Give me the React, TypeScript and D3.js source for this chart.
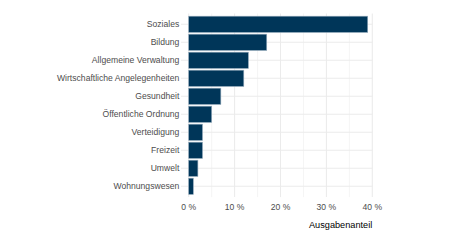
import React from "react";
import * as d3 from "d3";

const categories = [
  "Soziales",
  "Bildung",
  "Allgemeine Verwaltung",
  "Wirtschaftliche Angelegenheiten",
  "Gesundheit",
  "Öffentliche Ordnung",
  "Verteidigung",
  "Freizeit",
  "Umwelt",
  "Wohnungswesen",
];
const shares = [39, 17, 13, 12, 7, 5, 3, 3, 2, 1];
const majorTicks = [0, 10, 20, 30, 40];
const minorTicks = [5, 15, 25, 35];

const W = 450;
const H = 247;
const panel = { left: 181, right: 372.6, top: 13.5, bottom: 197.1 };
const font = "'Liberation Sans', Arial, sans-serif";

const App = () => {
  const x = d3.scaleLinear().domain([0, 40]).range([188.7, 372.3]);
  const y = d3
    .scaleBand()
    .domain(categories)
    .range([15.3, 195.3])
    .paddingInner(0.1)
    .paddingOuter(0.05);
  const band = y.step();

  return (
    <svg
      width={W}
      height={H}
      style={{ position: "absolute", left: 0, top: 0, background: "#fff" }}
    >
      {/* minor grid */}
      {minorTicks.map((t) => (
        <line
          key={"mi" + t}
          x1={x(t)}
          x2={x(t)}
          y1={panel.top}
          y2={panel.bottom}
          stroke="#ebebeb"
          strokeWidth={0.55}
        />
      ))}
      {majorTicks.map((t) => (
        <line
          key={"ma" + t}
          x1={x(t)}
          x2={x(t)}
          y1={panel.top}
          y2={panel.bottom}
          stroke="#ebebeb"
          strokeWidth={1.07}
        />
      ))}
      {categories.map((c) => (
        <line
          key={"h" + c}
          x1={panel.left}
          x2={panel.right}
          y1={(y(c) as number) + y.bandwidth() / 2}
          y2={(y(c) as number) + y.bandwidth() / 2}
          stroke="#ebebeb"
          strokeWidth={1.07}
        />
      ))}
      {categories.map((c, i) => {
        const cy = (y(c) as number) + y.bandwidth() / 2;
        const h = band * 0.9;
        return (
          <rect
            key={"b" + c}
            x={x(0)}
            y={cy - h / 2}
            width={x(shares[i]) - x(0)}
            height={h}
            fill="#003659"
            stroke="#90a8ba"
            strokeWidth={0.6}
          />
        );
      })}
      {categories.map((c) => (
        <text
          key={"l" + c}
          x={179.3}
          y={(y(c) as number) + y.bandwidth() / 2}
          dy="0.35em"
          textAnchor="end"
          fontFamily={font}
          fontSize={8.6}
          fill="#4d4d4d"
        >
          {c}
        </text>
      ))}
      {majorTicks.map((t) => (
        <text
          key={"t" + t}
          x={x(t)}
          y={207.4}
          dy="0.35em"
          textAnchor="middle"
          fontFamily={font}
          fontSize={8.6}
          fill="#4d4d4d"
        >
          {t + " %"}
        </text>
      ))}
      <text
        x={x(40)}
        y={224.3}
        dy="0.35em"
        textAnchor="end"
        fontFamily={font}
        fontSize={9.2}
        fill="#000"
      >
        Ausgabenanteil
      </text>
    </svg>
  );
};

export default App;
